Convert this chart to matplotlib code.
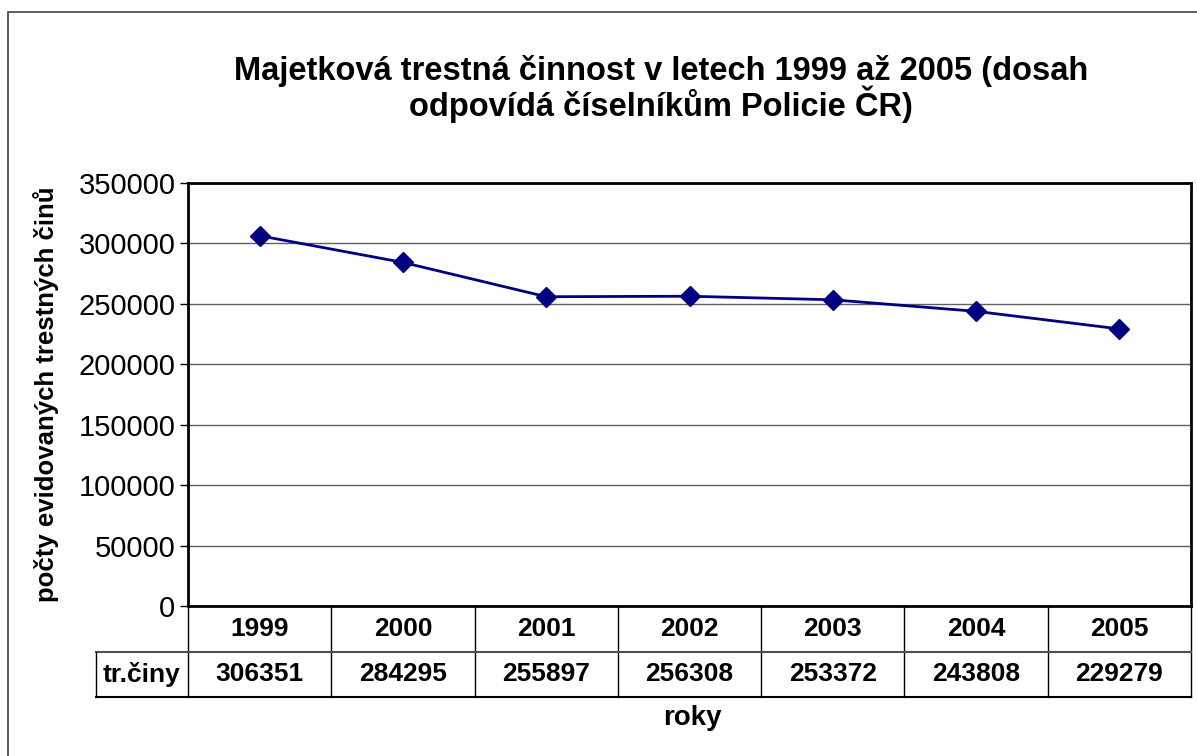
import matplotlib.pyplot as plt
from matplotlib.transforms import blended_transform_factory
from matplotlib.patches import Rectangle

roky = ['1999', '2000', '2001', '2002', '2003', '2004', '2005']
trestne_ciny = [306351, 284295, 255897, 256308, 253372, 243808, 229279]
nazev_radku = 'tr.činy'
titulek = 'Majetková trestná činnost v letech 1999 až 2005 (dosah\nodpovídá číselníkům Policie ČR)'
popis_y = 'počty evidovaných trestných činů'
popis_x = 'roky'

plt.rcParams['font.family'] = ['Liberation Sans', 'DejaVu Sans']

fig = plt.figure(figsize=(11.97, 7.56), dpi=100)
ax = fig.add_axes([188 / 1197, 150 / 756, 1003 / 1197, 423 / 756])

# ramecek okolo celeho grafu (prava a spodni strana mimo obrazek)
fig.add_artist(Rectangle((8 / 1197, -0.1), 1.2, 744 / 756 + 0.1,
                         transform=fig.transFigure, fill=False,
                         edgecolor='#404040', linewidth=1.2))

x = list(range(len(roky)))
ax.plot(x, trestne_ciny, color='#000080', linewidth=2, marker='D',
        markersize=10, zorder=3)

ax.set_xlim(-0.5, len(roky) - 0.5)
ax.set_ylim(0, 350000)
ax.set_yticks(range(0, 350001, 50000))
ax.set_yticklabels([str(v) for v in range(0, 350001, 50000)], fontsize=21)
ax.set_xticks([])
ax.tick_params(axis='y', direction='out', length=6, width=1, pad=3)
ax.yaxis.grid(True, color='#606060', linewidth=1)
ax.set_axisbelow(True)
for s in ax.spines.values():
    s.set_linewidth(2)

ax.set_ylabel(popis_y, fontsize=18.5, fontweight='bold', labelpad=14)

fig.text(661 / 1197, 1 - 89 / 756, titulek, ha='center', va='center',
         fontsize=23.5, fontweight='bold', linespacing=0.95)

# tabulka dat pod grafem
tr = blended_transform_factory(ax.transData, ax.transAxes)
h = (697 - 606) / 423
stred = -h / 2
vlevo = -0.5 - (188 - 96) / (1003 / len(roky))
for i, (rok, v) in enumerate(zip(roky, trestne_ciny)):
    ax.text(i, -h / 4, rok, transform=tr, ha='center', va='center',
            fontsize=19, fontweight='bold')
    ax.text(i, -3 * h / 4, str(v), transform=tr, ha='center', va='center',
            fontsize=19, fontweight='bold')
for i in range(len(roky) + 1):
    ax.plot([i - 0.5, i - 0.5], [0, -h], transform=tr, color='black',
            linewidth=1, clip_on=False)
ax.plot([vlevo, len(roky) - 0.5], [stred, stred], transform=tr,
        color='#505050', linewidth=1.5, clip_on=False)
ax.plot([vlevo, len(roky) - 0.5], [-h, -h], transform=tr,
        color='black', linewidth=1.5, clip_on=False)
ax.plot([vlevo, vlevo], [stred, -h], transform=tr, color='black',
        linewidth=1, clip_on=False)
ax.text((vlevo - 0.5) / 2, -3 * h / 4, nazev_radku, transform=tr,
        ha='center', va='center', fontsize=19, fontweight='bold')

fig.text(692 / 1197, 1 - 718 / 756, popis_x, ha='center', va='center',
         fontsize=20, fontweight='bold')

fig.savefig('out.png', dpi=100)
